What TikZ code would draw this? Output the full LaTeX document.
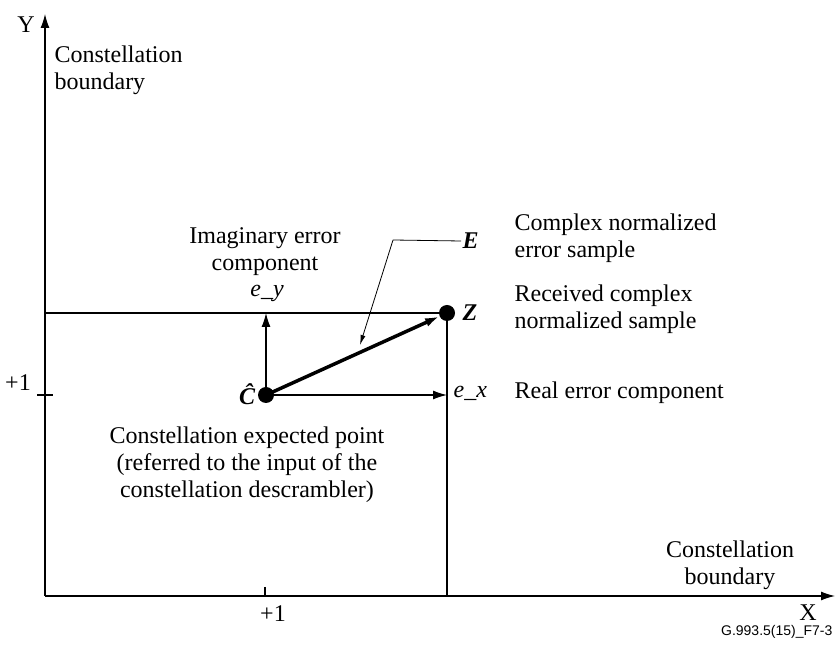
\documentclass[tikz,border=0pt]{standalone}
\usepackage{fontspec}
\setmainfont{Liberation Serif}
\newfontfamily\codefont{Liberation Sans}
\usetikzlibrary{arrows.meta}
\tikzset{
  dot/.style={circle,fill=black,inner sep=0pt,minimum size=16bp},
  lbl/.style={inner sep=1bp},
  leader/.style={line width=0.8bp,-{Latex[length=10bp,width=5bp]}},
}
\begin{document}
\begin{tikzpicture}[>={Latex[length=14bp,width=9bp]},line join=bevel,line width=1.2bp,
  font=\fontsize{24bp}{27bp}\selectfont]
\useasboundingbox (0bp,0bp) rectangle (835bp,646bp);
%%
\coordinate (orig) at (45bp,50bp);
  \coordinate (ytip) at (45bp,632bp);
  \coordinate (xtip) at (835bp,50bp);
  \coordinate (ytop) at (45bp,333bp);
  \coordinate (xfoot) at (447bp,50bp);
  \coordinate (ytick_l) at (37bp,251bp);
  \coordinate (ytick_r) at (53bp,251bp);
  \coordinate (xtick_t) at (265bp,59bp);
  \coordinate (xtick_b) at (265bp,50bp);
  \node (chat) at (266bp,251bp) [dot] {};
  \node (z) at (447bp,333bp) [dot] {};
  \coordinate (ey_end) at (266bp,333bp);
  \coordinate (ex_end) at (447bp,251bp);
  \coordinate (eknee) at (393bp,406bp);
  \coordinate (etip) at (360bp,301bp);
%
\node (ylbl) at (26bp,621bp) [lbl] {Y};
  \node (xlbl) at (808bp,33bp) [lbl] {X};
  \node (bnd_y) at (53bp,576bp) [lbl,anchor=west,align=left] {Constellation\\boundary};
  \node (bnd_x) at (730bp,81bp) [lbl,align=center] {Constellation\\boundary};
  \node (one_y) at (18bp,263bp) [lbl] {+1};
  \node (one_x) at (273bp,32bp) [lbl] {+1};
  \node (chatlbl) at (257bp,252bp) [lbl,anchor=east] {\textbf{\textit{\^{C}}}};
  \node (zlbl) at (461bp,333bp) [lbl,anchor=west] {\textbf{\textit{Z}}};
  \node (elbl) at (461bp,405bp) [lbl,anchor=west] {\textbf{\textit{E}}};
  \node (eylbl) at (267bp,353bp) [lbl] {\textit{e\_y}};
  \node (exlbl) at (452bp,253bp) [lbl,anchor=west] {\textit{e\_x}};
  \node (imag) at (265bp,394bp) [lbl,align=center] {Imaginary error\\component};
  \node (cplx) at (513bp,408bp) [lbl,anchor=west,align=left] {Complex normalized\\error sample};
  \node (recv) at (513bp,337bp) [lbl,anchor=west,align=left] {Received complex\\normalized sample};
  \node (real) at (513bp,253bp) [lbl,anchor=west] {Real error component};
  \node (expt) at (247bp,181bp) [lbl,align=center] {Constellation expected point\\(referred to the input of the\\constellation descrambler)};
  \node (figcode) at (834bp,14bp) [lbl,anchor=east,font=\codefont\fontsize{14bp}{16bp}\selectfont] {G.993.5(15)\_F7-3};
%
\draw [black,->] (orig) -- (ytip);
  \draw [black,->] (orig) -- (xtip);
  \draw [black] (ytick_l) -- (ytick_r);
  \draw [black] (xtick_t) -- (xtick_b);
  \draw [black] (ytop) -- (z.center);
  \draw [black] (z.center) -- (xfoot);
  \draw [black,->] (chat.center) -- (ey_end);
  \draw [black,->] (chat.center) -- (ex_end);
  \draw [black,line width=3.5bp,->] (chat.center) -- (z);
  \draw [black,leader] (elbl.west) -- (eknee) -- (etip);
%
\end{tikzpicture}
\end{document}
